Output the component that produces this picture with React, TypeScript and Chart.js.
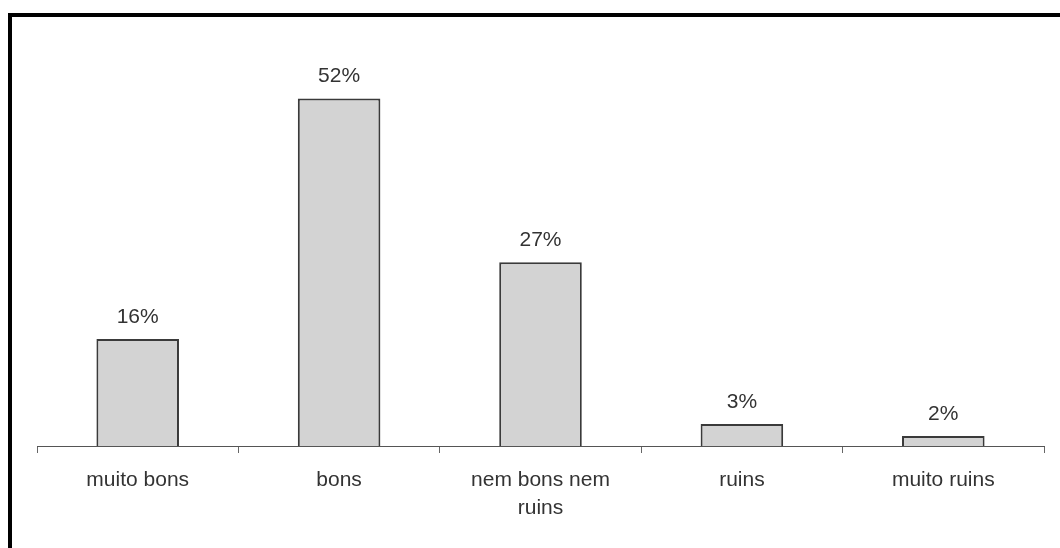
import React, { useEffect, useRef } from "react";
import { Chart, registerables } from "chart.js";

Chart.register(...registerables);

const categories: (string | string[])[] = [
  "muito bons",
  "bons",
  ["nem bons nem", "ruins"],
  "ruins",
  "muito ruins",
];
const values: number[] = [16, 52, 27.5, 3.3, 1.5];
const valueLabels: string[] = ["16%", "52%", "27%", "3%", "2%"];

const FONT = "'Liberation Sans', Arial, sans-serif";
const TEXT = "#333333";

const valueLabelPlugin = {
  id: "valueLabels",
  afterDatasetsDraw(chart: any) {
    const ctx = chart.ctx;
    const meta = chart.getDatasetMeta(0);
    ctx.save();
    ctx.font = `21px ${FONT}`;
    ctx.fillStyle = TEXT;
    ctx.textAlign = "center";
    ctx.textBaseline = "alphabetic";
    meta.data.forEach((el: any, i: number) => {
      ctx.fillText(valueLabels[i], el.x, el.y - 16);
    });
    ctx.restore();
  },
};

export default function App() {
  const ref = useRef<HTMLCanvasElement | null>(null);
  useEffect(() => {
    if (!ref.current) return;
    const chart = new Chart(ref.current, {
      type: "bar",
      data: {
        labels: categories,
        datasets: [
          {
            data: values,
            backgroundColor: "#d3d3d3",
            borderColor: "#3a3a3a",
            borderWidth: 2,
            barPercentage: 0.41,
            categoryPercentage: 1,
          },
        ],
      },
      options: {
        animation: false,
        responsive: false,
        layout: { padding: { left: 37, right: 16, top: 45, bottom: 0 } },
        plugins: {
          legend: { display: false },
          tooltip: { enabled: false },
          title: { display: false },
        },
        scales: {
          y: {
            display: false,
            min: 0,
            max: 60,
          },
          x: {
            afterFit: (s: any) => {
              s.height = 102;
            },
            border: { display: true, color: "#555555", width: 1 },
            grid: {
              display: true,
              offset: true,
              drawOnChartArea: false,
              drawTicks: true,
              tickLength: 7,
              tickColor: "#666666",
              tickWidth: 1,
            },
            ticks: {
              color: TEXT,
              padding: 14,
              maxRotation: 0,
              autoSkip: false,
              font: { family: FONT, size: 21, lineHeight: 1.3 },
            },
          },
        },
      },
      plugins: [valueLabelPlugin],
    });
    return () => chart.destroy();
  }, []);

  return (
    <div
      style={{
        position: "fixed",
        left: 0,
        top: 0,
        width: 1060,
        height: 548,
        overflow: "hidden",
        background: "#ffffff",
      }}
    >
      <div
        style={{
          position: "absolute",
          left: 8,
          top: 13,
          width: 1200,
          height: 700,
          border: "4px solid #000000",
          boxSizing: "border-box",
        }}
      />
      <canvas
        ref={ref}
        width={1060}
        height={548}
        style={{ position: "absolute", left: 0, top: 0, width: 1060, height: 548 }}
      />
    </div>
  );
}
